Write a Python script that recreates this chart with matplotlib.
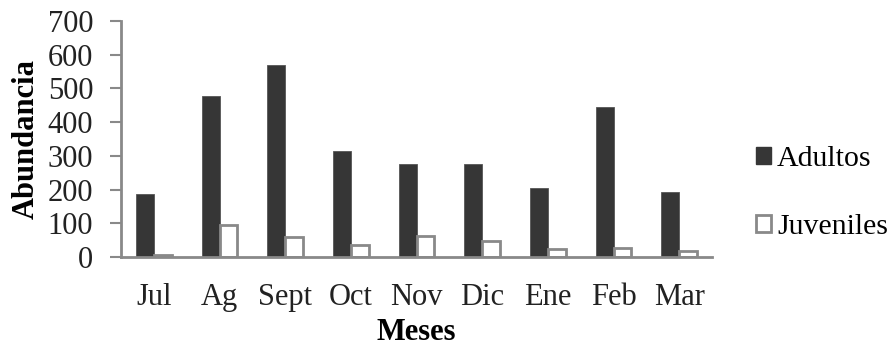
import numpy as np
import matplotlib
matplotlib.use("Agg")
import matplotlib.pyplot as plt
from matplotlib.patches import Patch

meses = ["Jul", "Ag", "Sept", "Oct", "Nov", "Dic", "Ene", "Feb", "Mar"]
adultos = [187, 477, 570, 315, 277, 276, 204, 446, 193]
juveniles = [6, 96, 59, 37, 61, 46, 25, 28, 19]

plt.rcParams["font.family"] = ["Liberation Serif", "DejaVu Serif"]

GRIS = "#898989"
OSCURO = "#363636"
FS = 22

fig = plt.figure(figsize=(8.96, 3.47), dpi=100)
ax = fig.add_axes([121/896, 1-257/347, (712-121)/896, (257-21)/347])

x = np.arange(len(meses))
w = 0.27

ax.bar(x - w/2, adultos, w, color=OSCURO, edgecolor="#555555", linewidth=0.6)
ax.bar(x + w/2, juveniles, w, color="white", edgecolor=GRIS, linewidth=2)

ax.set_xlim(-0.5, len(meses) - 0.5)
ax.set_ylim(0, 700)
ax.set_yticks(range(0, 701, 100))
ax.set_xticks(x)
ax.set_xticklabels(meses)

ax.tick_params(axis="y", length=8, width=1.5, color=GRIS, pad=12,
               labelsize=FS, labelcolor="#222222")
ax.tick_params(axis="x", length=0, pad=19, labelsize=FS, labelcolor="#222222")

for s in ["top", "right"]:
    ax.spines[s].set_visible(False)
for s in ["left", "bottom"]:
    ax.spines[s].set_color(GRIS)
    ax.spines[s].set_linewidth(2)

ax.set_xlabel("Meses", fontsize=FS, fontweight="bold", labelpad=4)
ax.set_ylabel("Abundancia", fontsize=FS, fontweight="bold", labelpad=5)

handles = [
    Patch(facecolor=OSCURO, edgecolor=OSCURO, label="Adultos"),
    Patch(facecolor="white", edgecolor=GRIS, linewidth=2, label="Juveniles"),
]
fig.legend(handles=handles, loc="center left", bbox_to_anchor=(756/896, 1-193/347),
           frameon=False, fontsize=21.5, handlelength=0.5, handleheight=0.5,
           handletextpad=0.2, labelspacing=1.4, borderpad=0, borderaxespad=0)

fig.savefig("out.png", dpi=100)
